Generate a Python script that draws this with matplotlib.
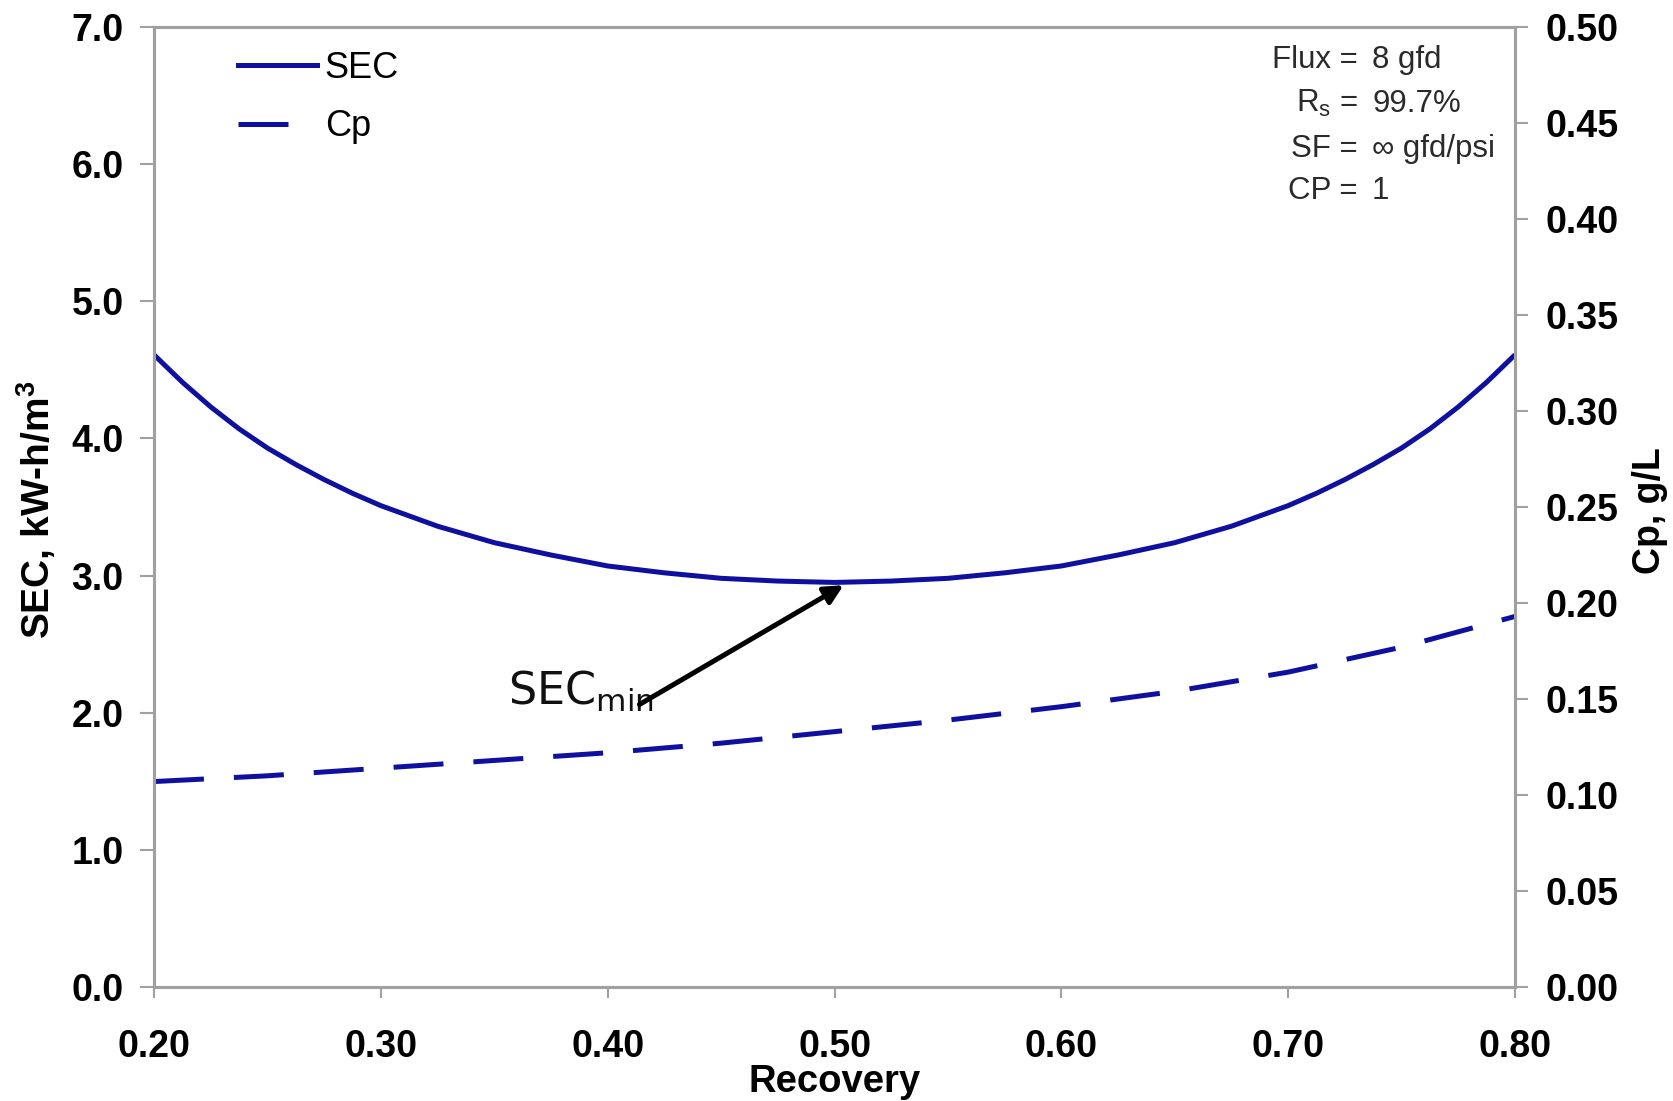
import matplotlib
matplotlib.use("Agg")
import matplotlib.pyplot as plt
from matplotlib.lines import Line2D
from matplotlib.ticker import FormatStrFormatter, MultipleLocator

plt.rcParams.update({"font.family": ["Liberation Sans", "DejaVu Sans"],
                     "mathtext.fontset": "dejavusans"})

# specific energy consumption vs recovery
recovery_sec = [0.2000, 0.2125, 0.2250, 0.2375, 0.2500, 0.2625, 0.2750, 0.2875,
                0.3000, 0.3250, 0.3500, 0.3750, 0.4000, 0.4250, 0.4500, 0.4750,
                0.5000, 0.5250, 0.5500, 0.5750, 0.6000, 0.6250, 0.6500, 0.6750,
                0.7000, 0.7125, 0.7250, 0.7375, 0.7500, 0.7625, 0.7750, 0.7875,
                0.8000]
sec = [4.61, 4.41, 4.23, 4.07, 3.93, 3.81, 3.70, 3.60,
       3.51, 3.36, 3.24, 3.15, 3.07, 3.02, 2.98, 2.96,
       2.95, 2.96, 2.98, 3.02, 3.07, 3.15, 3.24, 3.36,
       3.51, 3.60, 3.70, 3.81, 3.93, 4.07, 4.23, 4.41,
       4.61]

# permeate concentration vs recovery
recovery_cp = [0.20, 0.25, 0.30, 0.35, 0.40, 0.45, 0.50, 0.55, 0.60, 0.65,
               0.70, 0.75, 0.80]
cp = [0.107, 0.110, 0.114, 0.118, 0.122, 0.127, 0.133, 0.139, 0.146, 0.154,
      0.164, 0.177, 0.193]

sec_min_point = (0.504, 2.93)
params = [("Flux =", "8 gfd"),
          ("R$_{\\mathregular{s}}$ =", "99.7%"),
          ("SF =", "\u221e gfd/psi"),
          ("CP =", "1")]

LINE_COLOR = "#0f10a0"
SPINE_COLOR = "#a0a0a0"
TICK_FS = 27

fig = plt.figure(figsize=(16.73, 11.01), dpi=100)
ax = fig.add_axes([0.09205, 0.10354, 0.81351, 0.87193])
ax2 = ax.twinx()

ax.plot(recovery_sec, sec, color=LINE_COLOR, lw=3.6, solid_capstyle="butt")
ax2.plot(recovery_cp, cp, color=LINE_COLOR, lw=3.6, dashes=(10, 6))

ax.set_xlim(0.2, 0.8)
ax.set_ylim(0, 7)
ax2.set_ylim(0, 0.5)
ax.xaxis.set_major_locator(MultipleLocator(0.1))
ax.yaxis.set_major_locator(MultipleLocator(1.0))
ax2.yaxis.set_major_locator(MultipleLocator(0.05))
ax.xaxis.set_major_formatter(FormatStrFormatter("%.2f"))
ax.yaxis.set_major_formatter(FormatStrFormatter("%.1f"))
ax2.yaxis.set_major_formatter(FormatStrFormatter("%.2f"))

for a in (ax, ax2):
    for sp in a.spines.values():
        sp.set_color(SPINE_COLOR)
        sp.set_linewidth(2.2)
ax.tick_params(axis="x", direction="out", length=8, width=1.5, color=SPINE_COLOR,
               pad=22, labelsize=TICK_FS)
ax.tick_params(axis="y", direction="out", length=10, width=1.5, color=SPINE_COLOR,
               pad=12, labelsize=TICK_FS)
ax2.tick_params(axis="y", direction="out", length=9, width=1.5, color=SPINE_COLOR,
                pad=13, labelsize=TICK_FS)
for lab in ax.get_xticklabels() + ax.get_yticklabels() + ax2.get_yticklabels():
    lab.set_fontweight("bold")

ax.set_xlabel("Recovery", fontsize=27.5, fontweight="bold")
ax.xaxis.set_label_coords(0.5, -0.080)
ax.set_ylabel("SEC, kW-h/m$^{\\mathregular{3}}$", fontsize=28, fontweight="bold")
ax.yaxis.set_label_coords(-0.0705, 0.497)
ax2.set_ylabel("Cp, g/L", fontsize=27, fontweight="bold")
ax2.yaxis.set_label_coords(1.0862, 0.496)

# legend for both axes
handles = [Line2D([], [], color=LINE_COLOR, lw=3.6),
           Line2D([], [], color=LINE_COLOR, lw=3.6, dashes=(10, 6))]
ax.legend(handles, ["SEC", "Cp"], loc="upper left", bbox_to_anchor=(0.0617, 0.975),
          frameon=False, fontsize=26, handlelength=2.2, handletextpad=0.2,
          labelspacing=0.65, borderpad=0, borderaxespad=0)

# operating conditions
for i, (left, right) in enumerate(params):
    y = [0.9573, 0.9115, 0.8646, 0.8208][i]
    ax.text(0.8846, y, left, transform=ax.transAxes, ha="right", va="baseline",
            fontsize=22.5, color="#2a2a2a")
    ax.text(0.8950, y, right, transform=ax.transAxes, ha="left", va="baseline",
            fontsize=22.5, color="#2a2a2a")

# minimum SEC annotation
ax.text(0.356, 2.056, "SEC$_{\\mathregular{min}}$", ha="left", va="baseline",
        fontsize=32, family="DejaVu Sans", color="#111111")
ax.annotate("", xy=sec_min_point, xytext=(0.414, 2.06),
            arrowprops=dict(arrowstyle="-|>", lw=3.6, color="black",
                            mutation_scale=28, shrinkA=0, shrinkB=0))

fig.savefig("out.png", dpi=100)
